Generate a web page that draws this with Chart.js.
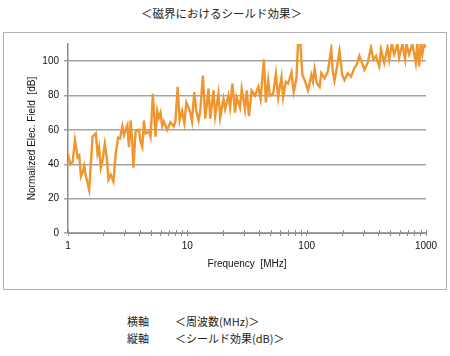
<!DOCTYPE html>
<html><head><meta charset="utf-8">
<script src="https://cdn.jsdelivr.net/npm/chart.js@4.4.1/dist/chart.umd.min.js"></script>
<style>
html,body{margin:0;padding:0;background:#fff;width:450px;height:356px;overflow:hidden;}
body{position:relative;font-family:"Noto Sans CJK JP","Noto Sans",sans-serif;color:#222;}
#title{position:absolute;left:0;width:443px;top:5px;text-align:center;font-size:11.5px;line-height:16px;}
#box{position:absolute;left:3px;top:32px;width:444px;height:258px;border:1px solid #b0b0b0;box-sizing:border-box;}
#wrap{position:absolute;left:0;top:0;width:442px;height:256px;}
.note{position:absolute;font-size:11px;line-height:14px;white-space:nowrap;}
</style></head>
<body>
<div id="title">＜磁界におけるシールド効果＞</div>
<div id="box"><div id="wrap"><canvas id="c"></canvas></div></div>
<div class="note" style="left:127px;top:314px;">横軸</div>
<div class="note" style="left:175px;top:314px;">＜周波数(MHz)＞</div>
<div class="note" style="left:127px;top:331px;">縦軸</div>
<div class="note" style="left:175px;top:331px;">＜シールド効果(dB)＞</div>
<script>
const freq = [1.0,1.045,1.094,1.144,1.205,1.242,1.283,1.326,1.367,1.413,1.505,1.607,1.656,1.711,1.768,1.823,1.884,1.946,2.034,2.113,2.183,2.282,2.402,2.512,2.625,2.729,2.856,2.945,3.041,3.145,3.243,3.35,3.46,3.528,3.687,3.929,4.057,4.194,4.325,4.467,4.759,4.917,5.14,5.41,5.59,5.77,5.96,6.15,6.35,6.77,7.21,7.69,7.94,8.30,8.63,9.03,9.44,9.81,10.25,10.59,10.94,11.43,11.89,12.42,12.83,13.5,14.13,15.05,15.55,16.57,17.1,18.23,18.84,20.07,20.74,22.1,22.8,23.87,25.1,25.9,27.65,28.56,30.43,31.45,32.85,34.6,36.9,39.3,41.1,43.8,45.5,47.6,49.2,52.4,55.2,57.7,61.5,63.5,66.8,69.8,72.1,74.6,77.9,82.1,84.6,88.6,92.1,96.2,102.5,109.4,112.9,116.6,121.9,128.3,132.6,141.3,150.5,160.6,165.6,171.1,178.9,188.4,198.4,207.4,220.9,235.8,251.2,262.6,276.5,294.6,304.3,324.3,346,361.5,380.9,405.7,419.4,446.7,475.9,491.8,517.6,541,576.7,595.7,634.6,668.3,685.5,721.1,768.8,820.4,846.5,874.5,903.6,931.1,961.7,1000];
const field = [46,40,41.5,54,44,45,33,35.5,39,33,25,56,57,58,46,50,38,42,52,44,31,34,30,46,55.5,55,62,57,60,62.6,50,65.5,52,38,59,60,53,50,65.5,58,59,56,81,56,71,67,70,62,65,60,64.5,62,65,85,65.5,71,64,76,73,70,65,82,71,65.5,71,91.6,66.5,84,66.5,83,68,81,67,78,72,80,73,87,70,79,73,84,72,83,68,83,80,85,78,101,76,89,80,81,92.6,79,90.6,79,88,87,90,93.5,82,90,110,110,92,89,83,92,88,95.5,87,85,93,90,94,107,94,88.7,96,106,92,89,93,91,96,98,103,98,95,99,108,101,103,97,107,99,108,101,110,104,110,102,110,101,110,104,110,99,110,97,110,104,110,108];
const xTicks = [1,2,3,4,5,6,7,8,9,10,20,30,40,50,60,70,80,90,100,200,300,400,500,600,700,800,900,1000];
const xLabels = [1,10,100,1000];
const yTicks = [0,20,40,60,80,100];

const tickUp = {
  id:'tickUp',
  afterDraw(chart){
    const s = chart.scales.x, ctx = chart.ctx, y = chart.chartArea.bottom;
    ctx.save(); ctx.strokeStyle='#8c8c8c'; ctx.lineWidth=1;
    xTicks.forEach(v=>{const px=Math.round(s.getPixelForValue(v))+0.5;ctx.beginPath();ctx.moveTo(px,y-3);ctx.lineTo(px,y);ctx.stroke();});
    ctx.restore();
  }
};
const fontTick = {family:'"Liberation Sans", Arial, sans-serif', size:10};
new Chart(document.getElementById('c'), {
  type:'line',
  data:{datasets:[{data:freq.map((f,i)=>({x:f,y:field[i]})),borderColor:'#f0962e',borderWidth:2.4,pointRadius:0,tension:0,fill:false,clip:0}]},
  options:{
    responsive:true,maintainAspectRatio:false,animation:false,
    layout:{padding:{top:11,right:20,left:0,bottom:0}},
    plugins:{legend:{display:false},tooltip:{enabled:false}},
    scales:{
      x:{type:'logarithmic',min:1,max:1000,
        afterBuildTicks:s=>{s.ticks=xTicks.map(v=>({value:v}));},
        afterFit:s=>{s.height=56;},
        ticks:{autoSkip:false,maxRotation:0,padding:4,color:'#111',font:fontTick,
          callback:(v)=>xLabels.includes(v)?String(v):''},
        grid:{drawOnChartArea:false,drawTicks:true,tickLength:3,color:'#8c8c8c',lineWidth:1},
        border:{display:true,color:'#8c8c8c',width:1},
        title:{display:true,text:'Frequency  [MHz]',color:'#111',font:{family:'"Liberation Sans", Arial, sans-serif',size:10,lineHeight:1.2},padding:19}
      },
      y:{min:0,max:110,
        afterBuildTicks:s=>{s.ticks=yTicks.map(v=>({value:v}));},
        afterFit:s=>{s.width=64;},
        ticks:{padding:5,color:'#111',font:fontTick},
        grid:{color:'#a3a3a3',lineWidth:1.5,tickLength:4,drawTicks:true},
        border:{display:true,color:'#8c8c8c',width:1.5},
        title:{display:true,text:'Normalized Elec. Field  [dB]',color:'#111',font:{family:'"Liberation Sans", Arial, sans-serif',size:10,lineHeight:1.2},padding:22}
      }
    }
  },
  plugins:[tickUp]
});
</script>
</body></html>
